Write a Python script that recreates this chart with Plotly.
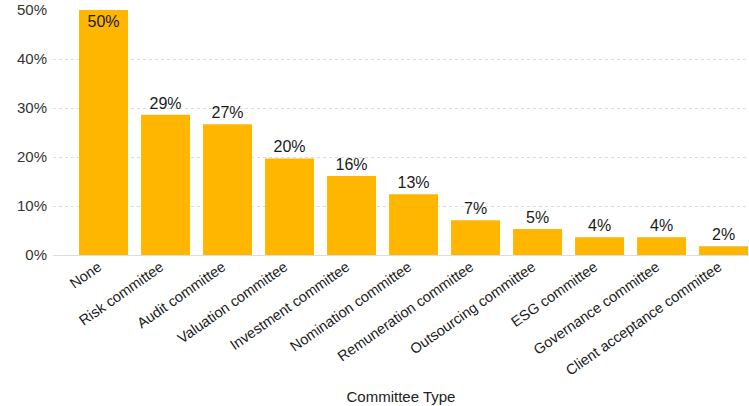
import plotly.graph_objects as go

categories = ["None", "Risk committee", "Audit committee", "Valuation committee",
              "Investment committee", "Nomination committee", "Remuneration committee",
              "Outsourcing committee", "ESG committee", "Governance committee",
              "Client acceptance committee"]
values = [0.50, 0.286, 0.267, 0.197, 0.161, 0.124, 0.071, 0.053, 0.036, 0.036, 0.018]
labels = ["50%", "29%", "27%", "20%", "16%", "13%", "7%", "5%", "4%", "4%", "2%"]
y_ticks = [0, 0.1, 0.2, 0.3, 0.4, 0.5]

positions = ["inside"] + ["outside"] * (len(values) - 1)

fig = go.Figure(go.Bar(
    x=categories, y=values, text=labels, textposition=positions,
    insidetextanchor="end",
    marker=dict(color="#FFB600", line=dict(width=0)),
    textfont=dict(size=16, color="#1a1a1a"),
    cliponaxis=False,
))

fig.update_layout(
    width=749, height=406,
    margin=dict(l=53, r=0, t=10, b=151, autoexpand=False),
    paper_bgcolor="white", plot_bgcolor="white",
    font=dict(family="Liberation Sans, Arial, sans-serif", color="#222222"),
    bargap=0.21,
    showlegend=False,
)
fig.update_xaxes(
    range=[-0.815, 10.41], tickangle=-35, tickfont=dict(size=14.5, color="#1a1a1a"),
    showgrid=False, showline=False, ticks="", automargin=False,
    ticklabelshift=-5,
    title=dict(text="Committee Type", font=dict(size=15, color="#222222"), standoff=14),
)
fig.update_yaxes(
    range=[0, 0.5], tickvals=y_ticks, tickformat=".0%",
    tickfont=dict(size=15, color="#333333"),
    showgrid=True, gridcolor="#DDDDDD", griddash="dot", gridwidth=1,
    zeroline=True, zerolinecolor="#DDDDDD", zerolinewidth=1,
    showline=False, ticks="", ticklabelstandoff=5, automargin=False,
    ticklabeloverflow="allow",
)
fig.write_html(
    "out.html",
    config={"displayModeBar": False},
    post_script="document.body.style.margin='0';document.body.style.overflow='hidden';",
)
